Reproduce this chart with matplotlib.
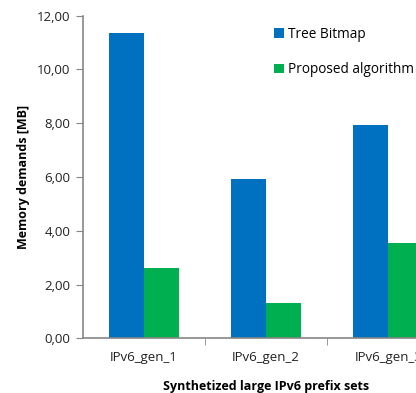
import matplotlib
matplotlib.use("Agg")
import matplotlib.pyplot as plt
import numpy as np

categories = ["IPv6_gen_1", "IPv6_gen_2", "IPv6_gen_3"]
series_names = ["Tree Bitmap", "Proposed algorithm"]
tree_bitmap = [11.35, 5.93, 7.94]
proposed = [2.62, 1.30, 3.55]
y_ticks = [0, 2, 4, 6, 8, 10, 12]
y_tick_labels = ["0,00", "2,00", "4,00", "6,00", "8,00", "10,00", "12,00"]

plt.rcParams['font.family'] = ['Open Sans', 'DejaVu Sans']

fig = plt.figure(figsize=(4.16, 3.93), dpi=100)
ax = fig.add_axes([0.1988, 0.1392, 0.8817, 0.8209])

x = np.arange(len(categories))
w = 0.286
b1 = ax.bar(x - w / 2, tree_bitmap, w, color="#0070C0", label=series_names[0])
b2 = ax.bar(x + w / 2, proposed, w, color="#00B050", label=series_names[1])

ax.set_xlim(-0.5, 2.5)
ax.set_ylim(0, 12)
ax.set_yticks(y_ticks)
ax.set_yticklabels(y_tick_labels, fontsize=9.5, color="#222222")
ax.set_xticks(x)
ax.set_xticklabels(categories, fontsize=9.5, color="#222222")
ax.set_xticks([0.5, 1.5, 2.5], minor=True)
ax.tick_params(axis="x", which="major", length=0, pad=9)
ax.tick_params(axis="x", which="minor", length=5, color="#868686", direction="out")
ax.tick_params(axis="y", length=5, color="#868686", direction="out", pad=4)

for s in ["top", "right"]:
    ax.spines[s].set_visible(False)
for s in ["left", "bottom"]:
    ax.spines[s].set_color("#868686")
    ax.spines[s].set_linewidth(1.2)

ax.set_ylabel("Memory demands [MB]", fontsize=9, fontweight="bold", labelpad=4.5)
ax.set_xlabel("Synthetized large IPv6 prefix sets", fontsize=9, fontweight="bold", labelpad=12)

ax.legend(handles=[b1, b2], loc="upper left", bbox_to_anchor=(274 / 416, 1 - 27 / 393),
          bbox_transform=fig.transFigure, frameon=False, fontsize=9.8,
          handlelength=0.7, handleheight=0.7, handletextpad=0.35, labelspacing=1.5,
          borderaxespad=0, borderpad=0)

fig.savefig("out.png", dpi=100)
